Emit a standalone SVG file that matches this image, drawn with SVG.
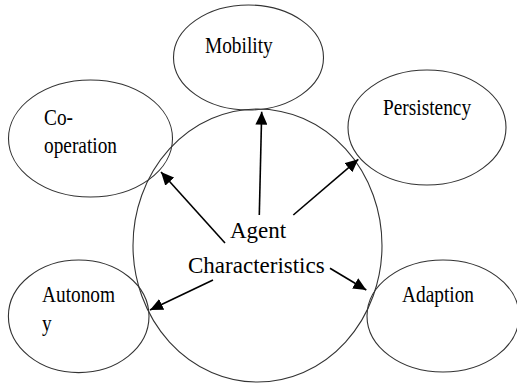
<svg xmlns="http://www.w3.org/2000/svg" width="517" height="383" viewBox="0 0 517 383">
<defs>
<style>
.node{fill:none;stroke:#333;stroke-width:1.1}
.lbl{font-family:"Liberation Serif",serif;font-size:22.5px;fill:#000}
.ctr{font-family:"Liberation Serif",serif;font-size:23px;fill:#000}
.arr{stroke:#000;stroke-width:1.6;fill:none;marker-end:url(#ah)}
</style>
<marker id="ah" markerUnits="userSpaceOnUse" markerWidth="14" markerHeight="12" refX="13" refY="6" orient="auto">
<path d="M0,0 L13,6 L0,12 Z" fill="#000"/>
</marker>
</defs>
<rect width="517" height="383" fill="#fff"/>
<g id="agent">
<ellipse class="node" cx="257.5" cy="245.5" rx="124.5" ry="136.5"/>
<text class="ctr" font-family="Liberation Serif, serif" x="230" y="238">Agent</text>
<text class="ctr" font-family="Liberation Serif, serif" x="188" y="272.5">Characteristics</text>
</g>
<g id="mobility">
<ellipse class="node" cx="248.5" cy="57.5" rx="75" ry="52.5"/>
<text class="lbl" font-family="Liberation Serif, serif" transform="translate(205,53) scale(0.86,1)">Mobility</text>
</g>
<g id="cooperation">
<ellipse class="node" cx="90.5" cy="138.5" rx="82" ry="58.5"/>
<text class="lbl" font-family="Liberation Serif, serif" transform="translate(44,124.5) scale(0.86,1)">Co-</text>
<text class="lbl" font-family="Liberation Serif, serif" transform="translate(44,153) scale(0.86,1)">operation</text>
</g>
<g id="persistency">
<ellipse class="node" cx="427" cy="127.5" rx="79" ry="57.5"/>
<text class="lbl" font-family="Liberation Serif, serif" transform="translate(383,115) scale(0.86,1)">Persistency</text>
</g>
<g id="autonomy">
<ellipse class="node" cx="78.7" cy="316.3" rx="70.3" ry="56.3"/>
<text class="lbl" font-family="Liberation Serif, serif" transform="translate(42,301.7) scale(0.86,1)">Autonom</text>
<text class="lbl" font-family="Liberation Serif, serif" transform="translate(42,331) scale(0.86,1)">y</text>
</g>
<g id="adaption">
<ellipse class="node" cx="443" cy="316" rx="76" ry="56"/>
<text class="lbl" font-family="Liberation Serif, serif" transform="translate(402,301.7) scale(0.86,1)">Adaption</text>
</g>
<g id="connectors">
<line class="arr" x1="259.3" y1="215" x2="261.7" y2="111.7"/>
<line class="arr" x1="225" y1="243" x2="161" y2="172"/>
<line class="arr" x1="293.3" y1="215" x2="358.3" y2="159.3"/>
<line class="arr" x1="213" y1="280" x2="150" y2="310"/>
<line class="arr" x1="330" y1="268.3" x2="366.3" y2="290"/>
</g>
</svg>
